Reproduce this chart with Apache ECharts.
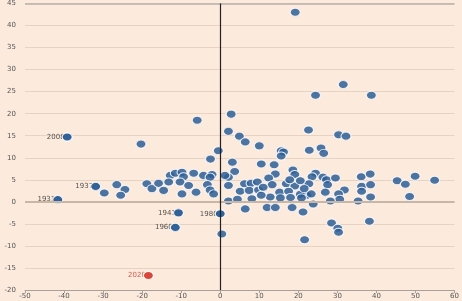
<!DOCTYPE html>
<html>
<head>
<meta charset="utf-8">
<script src="https://cdn.jsdelivr.net/npm/echarts@6/dist/echarts.min.js"></script>
<style>
html,body{margin:0;padding:0;background:#fcebdd;}
#c{width:462px;height:301px;}
</style>
</head>
<body>
<div id="c"></div>
<script>
// Unlabelled observations
var pointX = [19.2,31.5,24.4,38.7,2.8,-5.9,-20.3,22.6,2.1,4.9,6.4,10.0,-0.5,-2.5,3.1,15.6,16.2,15.6,22.8,25.8,26.5,30.3,32.2,
  10.5,13.8,14.1,18.6,19.1,24.4,26.3,27.2,29.5,23.5,22.7,27.5,31.8,26.9,30.3,30.6,28.2,22.2,23.8,21.2,36.1,38.4,36.2,38.5,36.2,38.5,35.3,
  45.3,47.4,49.9,54.9,48.5,28.5,30.1,30.3,38.2,21.6,
  3.7,2.1,12.4,6.2,7.9,2.1,13.3,16.9,19.1,5.1,7.4,9.8,15.2,17.5,20.5,23.3,12.8,8.1,15.4,20.8,2.1,4.4,6.4,12.0,14.1,18.4,
  9.5,11.0,17.8,20.5,21.5,10.5,18.0,
  -12.8,-11.5,-9.8,-9.4,-6.8,-4.3,-2.1,-2.6,1.2,-18.8,-17.5,-15.8,-14.5,-13.2,-10.3,-8.1,-6.2,-9.8,-3.3,-2.6,-1.7,0.4,
  -29.7,-26.5,-24.4,-25.5];
var pointY = [43.0,26.6,24.2,24.2,19.9,18.5,13.1,16.3,16.0,14.9,13.6,12.7,11.6,9.7,9.0,11.6,11.3,10.4,11.7,12.2,11.0,15.2,14.9,
  8.6,8.4,6.3,7.2,6.2,6.5,5.6,5.0,5.4,5.7,4.1,3.9,2.7,2.2,1.8,0.6,0.2,1.5,-0.5,-2.3,5.7,6.3,3.5,3.9,2.4,1.1,0.2,
  4.8,4.0,5.8,4.9,1.2,-4.8,-6.0,-6.9,-4.4,-8.6,
  6.9,5.6,5.4,4.1,4.2,3.7,3.9,4.1,3.6,2.4,2.6,2.7,2.2,2.4,1.7,1.8,1.1,0.7,0.9,0.9,0.2,0.6,-1.6,-1.3,-1.3,-1.3,
  4.5,3.3,5.0,4.8,3.0,1.5,1.0,
  6.0,6.5,6.7,5.7,6.5,6.0,6.2,5.6,6.0,4.1,3.0,4.2,2.6,4.5,4.5,3.7,2.2,1.8,3.9,2.7,1.8,-7.3,
  2.0,3.9,2.8,1.5];
// Labelled years
var labelYears = ["2008","1937","1931","1941","1960","1980"];
var labelX = [-39.2,-31.9,-41.6,-10.7,-11.5,0.0];
var labelY = [14.7,3.5,0.5,-2.5,-5.8,-2.7];
// Highlighted year
var redYears = ["2020"];
var redX = [-18.4];
var redY = [-16.7];
// Axis ticks
var xMin = -50, xMax = 60, xStep = 10;
var yMin = -20, yMax = 45, yStep = 5;

function zip(a, b, names) {
  return a.map(function (v, i) { return names ? {value: [v, b[i]], name: names[i]} : [v, b[i]]; });
}

var blue = '#2e5e97';
var red = '#d8463b';
var fontFam = '"DejaVu Sans", sans-serif';

var chart = echarts.init(document.getElementById('c'), null, {renderer: 'canvas'});
chart.setOption({
  backgroundColor: '#fcebdd',
  animation: false,
  grid: {left: 25, right: 7, top: 2, bottom: 11, containLabel: false},
  xAxis: {
    type: 'value', min: xMin, max: xMax, interval: xStep,
    axisLine: {show: true, onZero: false, lineStyle: {color: '#a9a09a', width: 1}},
    axisTick: {show: true, length: 3, lineStyle: {color: '#a9a09a'}},
    axisLabel: {fontSize: 7, color: '#555', margin: 3, fontFamily: fontFam},
    splitLine: {show: false}
  },
  yAxis: {
    type: 'value', min: yMin, max: yMax, interval: yStep,
    axisLine: {show: false}, axisTick: {show: false},
    axisLabel: {fontSize: 7, color: '#555', margin: 9, fontFamily: fontFam},
    splitLine: {show: true, lineStyle: {color: '#e6d3c3', width: 1}}
  },
  series: [
    {
      type: 'scatter', data: [], z: 1, silent: true,
      markLine: {
        symbol: 'none', silent: true, label: {show: false},
        data: [
          {yAxis: 0, lineStyle: {color: '#c8b6a6', width: 2, type: 'solid'}},
          {yAxis: yMax, lineStyle: {color: '#b8b0aa', width: 1.5, type: 'solid'}},
          {xAxis: 0, lineStyle: {color: '#222', width: 1.2, type: 'solid'}}
        ]
      }
    },
    {
      type: 'scatter', z: 3, data: zip(pointX, pointY),
      symbol: 'circle', symbolSize: [10, 8],
      itemStyle: {color: blue, opacity: 0.85, borderColor: '#ffffff', borderWidth: 1}
    },
    {
      type: 'scatter', z: 2, data: zip(labelX, labelY, labelYears),
      symbol: 'circle', symbolSize: [10, 8],
      itemStyle: {color: blue, opacity: 0.85, borderColor: '#ffffff', borderWidth: 1},
      label: {show: true, position: 'left', distance: -3, formatter: '{b}', fontSize: 7, color: '#333', fontFamily: fontFam}
    },
    {
      type: 'scatter', z: 4, data: zip(labelX, labelY),
      symbol: 'circle', symbolSize: [10, 8],
      itemStyle: {color: blue, opacity: 0.85, borderColor: '#ffffff', borderWidth: 1}
    },
    {
      type: 'scatter', z: 2, data: zip(redX, redY, redYears),
      symbol: 'circle', symbolSize: [10, 8],
      itemStyle: {color: red, opacity: 0.9, borderColor: '#ffffff', borderWidth: 1},
      label: {show: true, position: 'left', distance: -3, formatter: '{b}', fontSize: 7, color: red, fontFamily: fontFam}
    },
    {
      type: 'scatter', z: 4, data: zip(redX, redY),
      symbol: 'circle', symbolSize: [10, 8],
      itemStyle: {color: red, opacity: 0.9, borderColor: '#ffffff', borderWidth: 1}
    }
  ]
});
</script>
</body>
</html>
